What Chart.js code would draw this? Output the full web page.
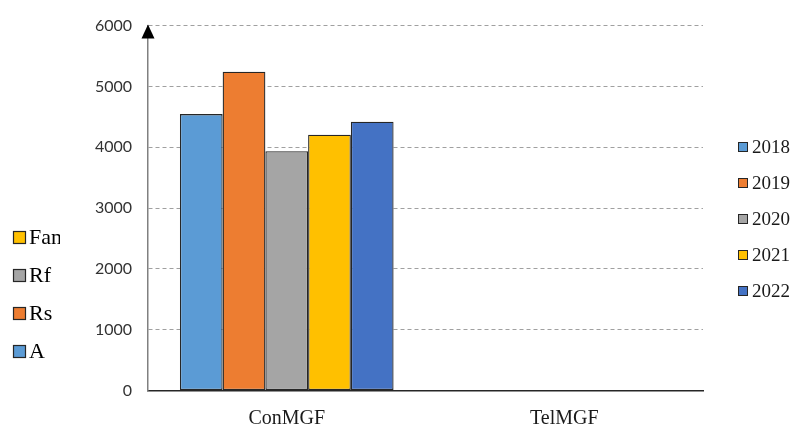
<!DOCTYPE html>
<html>
<head>
<meta charset="utf-8">
<script src="https://cdn.jsdelivr.net/npm/chart.js@4/dist/chart.umd.min.js"></script>
<style>
  html, body { margin: 0; padding: 0; background: #ffffff; }
  #wrap { width: 795px; height: 424px; }
</style>
</head>
<body>
<div id="wrap"><canvas id="chart" width="795" height="424"></canvas></div>
<script>
// Categories and yearly series
const categories = ['ConMGF', 'TelMGF'];
const years = ['2018', '2019', '2020', '2021', '2022'];
const values2018 = [4545, 0];
const values2019 = [5240, 0];
const values2020 = [3935, 0];
const values2021 = [4205, 0];
const values2022 = [4420, 0];
const yearColors = ['#5B9BD5', '#ED7D31', '#A5A5A5', '#FFC000', '#4472C4'];

// Secondary key shown on the left side
const sideLabels = ['Fan', 'Rf', 'Rs', 'A'];
const sideColors = ['#FFC000', '#A5A5A5', '#ED7D31', '#5B9BD5'];

// Value axis ticks
const yMin = 0, yMax = 6000, yStep = 1000;

const seriesValues = [values2018, values2019, values2020, values2021, values2022];

const datasets = years.map((y, i) => ({
  label: y,
  data: seriesValues[i],
  backgroundColor: yearColors[i],
  borderColor: '#262626',
  borderWidth: 1.3,
  borderSkipped: false,
  categoryPercentage: 0.77,
  barPercentage: 1.0
}));

const decorations = {
  id: 'decorations',
  afterDraw(chart) {
    const ctx = chart.ctx;
    const area = chart.chartArea;
    const yScale = chart.scales.y;
    const axisX = area.left;
    const topY = yScale.getPixelForValue(yMax);

    // arrow head on the value axis
    ctx.save();
    ctx.fillStyle = '#000000';
    ctx.beginPath();
    ctx.moveTo(axisX, topY - 1);
    ctx.lineTo(axisX - 6.5, topY + 13);
    ctx.lineTo(axisX + 6.5, topY + 13);
    ctx.closePath();
    ctx.fill();
    ctx.restore();

    // year key on the right
    ctx.save();
    ctx.font = '19px "Liberation Serif", "Times New Roman", serif';
    ctx.textBaseline = 'middle';
    ctx.textAlign = 'left';
    years.forEach((y, i) => {
      const cy = 147 + i * 36;
      ctx.fillStyle = yearColors[i];
      ctx.fillRect(738, cy - 5, 10, 10);
      ctx.strokeStyle = '#262626';
      ctx.lineWidth = 1;
      ctx.strokeRect(738.5, cy - 4.5, 9, 9);
      ctx.fillStyle = '#1a1a1a';
      ctx.fillText(y, 752, cy + 1);
    });
    ctx.restore();

    // secondary key on the left, clipped at its column edge
    ctx.save();
    ctx.beginPath();
    ctx.rect(0, 0, 60, chart.height);
    ctx.clip();
    ctx.font = '22px "Liberation Serif", "Times New Roman", serif';
    ctx.textBaseline = 'middle';
    ctx.textAlign = 'left';
    sideLabels.forEach((lab, i) => {
      const cy = 237 + i * 38;
      ctx.fillStyle = sideColors[i];
      ctx.fillRect(13, cy - 6, 13, 13);
      ctx.strokeStyle = '#262626';
      ctx.lineWidth = 1.2;
      ctx.strokeRect(13.5, cy - 5.5, 12, 12);
      ctx.fillStyle = '#000000';
      ctx.fillText(lab, 29, cy + 1);
    });
    ctx.restore();
  }
};

new Chart(document.getElementById('chart'), {
  type: 'bar',
  data: { labels: categories, datasets },
  options: {
    responsive: false,
    devicePixelRatio: 1,
    animation: false,
    layout: { padding: { top: 23, right: 92, left: 0, bottom: 0 } },
    plugins: {
      legend: { display: false },
      tooltip: { enabled: false }
    },
    scales: {
      x: {
        grid: { display: false },
        border: { display: true, color: '#262626', width: 1.5 },
        ticks: {
          padding: 8,
          color: '#1a1a1a',
          font: { family: '"Liberation Serif", "Times New Roman", serif', size: 20 }
        },
        afterFit(scale) { scale.height = 33.5; }
      },
      y: {
        min: yMin,
        max: yMax,
        ticks: {
          stepSize: yStep,
          padding: 16,
          color: '#333333',
          font: { family: 'Lato, "Open Sans", sans-serif', size: 16 },
          callback: (v) => String(v)
        },
        grid: {
          drawTicks: false,
          color: (c) => (c.tick && c.tick.value === 0 ? 'rgba(0,0,0,0)' : '#a0a0a0'),
          lineWidth: 1
        },
        border: { display: true, color: '#808080', width: 1.5, dash: [4, 3] },
        afterFit(scale) { scale.width = 148; }
      }
    }
  },
  plugins: [decorations]
});
</script>
</body>
</html>
